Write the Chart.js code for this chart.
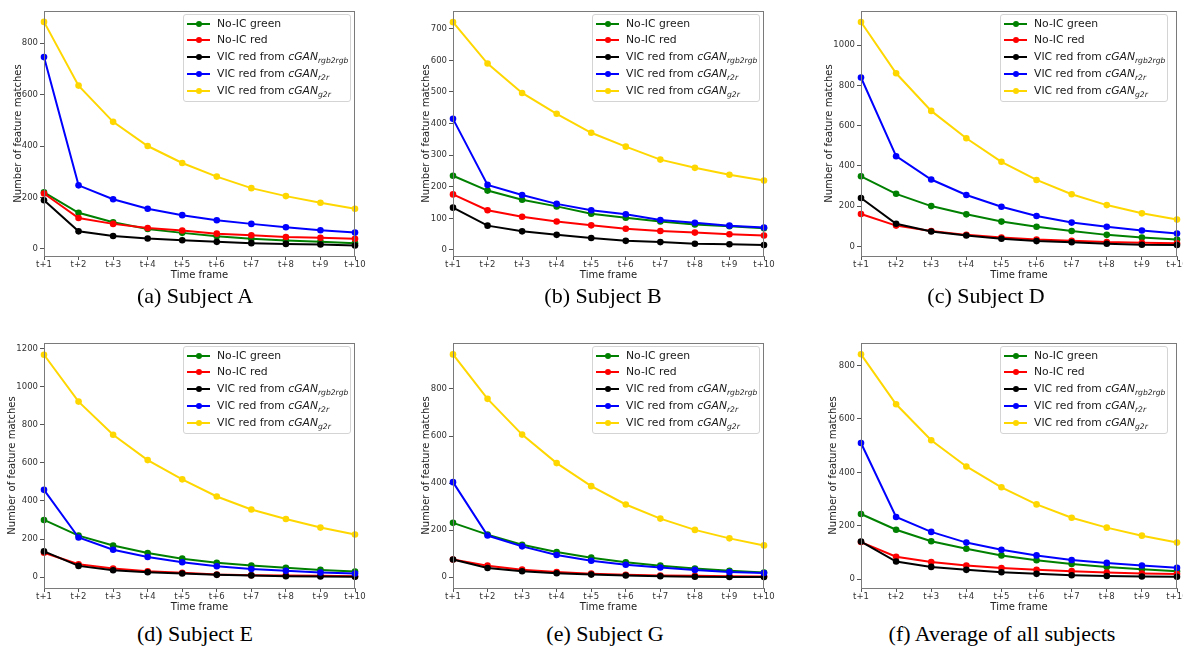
<!DOCTYPE html>
<html>
<head>
<meta charset="utf-8">
<script src="https://cdn.jsdelivr.net/npm/chart.js@4"></script>
<style>
  body { margin: 0; width: 1183px; height: 647px; background: #fff; position: relative; overflow: hidden; font-family: "DejaVu Sans", sans-serif; }
  canvas { position: absolute; }
  .legend { position: absolute; width: 168px; height: 88px; border: 1px solid #d4d4d4; border-radius: 3px; background: rgba(255,255,255,0.85); box-sizing: border-box; font-size: 10.8px; color: #1a1a1a; }
  .row { position: absolute; left: 0; width: 100%; height: 14px; line-height: 14px; white-space: nowrap; }
  .handle { position: absolute; left: 3px; top: 6px; width: 23px; height: 2px; }
  .dot { position: absolute; left: 8.5px; top: -2px; width: 6px; height: 6px; border-radius: 50%; }
  .lbl { position: absolute; left: 33px; top: 0; }
  .lbl sub { font-size: 7.6px; vertical-align: -3px; line-height: 0; font-style: italic; }
  .caption { position: absolute; font-family: "Liberation Serif", serif; font-size: 22px; color: #000; transform: translate(-50%, -50%); white-space: nowrap; }
</style>
</head>
<body>
<script>
const timeFrames = ['t+1', 't+2', 't+3', 't+4', 't+5', 't+6', 't+7', 't+8', 't+9', 't+10'];
const seriesColors = ['#008000', '#ff0000', '#000000', '#0000ff', '#ffd700'];
const seriesNames = ['No-IC green', 'No-IC red', 'VIC red from cGAN', 'VIC red from cGAN', 'VIC red from cGAN'];
const seriesSubs = ['', '', 'rgb2rgb', 'r2r', 'g2r'];
const yTitle = 'Number of feature matches';
const xTitle = 'Time frame';

// (a) Subject A
const aGreen = [220, 140, 103, 77, 62, 49, 39, 32, 27, 22];
const aRed   = [215, 120, 97, 81, 71, 59, 53, 46, 43, 39];
const aBlack = [189, 68, 50, 40, 33, 27, 22, 19, 17, 13];
const aBlue  = [746, 247, 193, 156, 131, 111, 97, 84, 72, 63];
const aGold  = [883, 635, 494, 400, 334, 281, 236, 205, 179, 156];

// (b) Subject B
const bGreen = [235, 188, 159, 138, 115, 102, 90, 81, 75, 69];
const bRed   = [176, 126, 105, 90, 78, 67, 60, 55, 50, 46];
const bBlack = [134, 77, 59, 48, 38, 29, 25, 20, 18, 16];
const bBlue  = [415, 206, 174, 146, 126, 113, 95, 86, 77, 71];
const bGold  = [721, 590, 497, 431, 371, 327, 286, 260, 238, 220];

// (c) Subject D
const cGreen = [348, 261, 200, 159, 123, 97, 76, 57, 44, 34];
const cRed   = [161, 103, 76, 57, 44, 34, 28, 21, 18, 15];
const cBlack = [240, 112, 74, 54, 38, 26, 20, 13, 8, 7];
const cBlue  = [839, 448, 332, 255, 197, 151, 118, 97, 79, 64];
const cGold  = [1115, 860, 673, 537, 420, 330, 259, 205, 164, 133];

// (d) Subject E
const dGreen = [300, 218, 166, 127, 97, 75, 61, 49, 38, 29];
const dRed   = [128, 68, 45, 31, 23, 14, 10, 9, 7, 5];
const dBlack = [135, 59, 36, 26, 19, 12, 9, 5, 3, 2];
const dBlue  = [458, 208, 144, 106, 78, 57, 43, 33, 24, 19];
const dGold  = [1167, 921, 747, 614, 513, 423, 355, 305, 260, 224];

// (e) Subject G
const eGreen = [231, 181, 138, 107, 83, 63, 49, 37, 27, 20];
const eRed   = [75, 49, 32, 22, 15, 10, 7, 6, 4, 3];
const eBlack = [75, 39, 25, 17, 11, 7, 4, 2, 1, 1];
const eBlue  = [404, 177, 131, 94, 70, 53, 41, 31, 22, 18];
const eGold  = [947, 758, 606, 485, 387, 309, 249, 201, 165, 135];

// (f) Average of all subjects
const fGreen = [244, 185, 142, 114, 89, 71, 57, 46, 37, 30];
const fRed   = [139, 84, 64, 51, 42, 35, 30, 25, 21, 19];
const fBlack = [141, 66, 46, 35, 26, 20, 15, 12, 10, 9];
const fBlue  = [510, 233, 177, 137, 110, 89, 72, 61, 51, 43];
const fGold  = [842, 655, 520, 422, 344, 280, 230, 193, 163, 137];

// layout: plot box [left, top, right, bottom], axis range, legend and caption spots
const panels = [
  { caption: '(a) Subject A', series: [aGreen, aRed, aBlack, aBlue, aGold], box: [44, 9, 355, 256], yMin: -28, yMax: 925, step: 200, legendX: 183, capX: 195, capY: 296, titleGap: 26 },
  { caption: '(b) Subject B', series: [bGreen, bRed, bBlack, bBlue, bGold], box: [453, 9, 764, 256], yMin: -19, yMax: 756, step: 100, legendX: 592, capX: 603, capY: 296, titleGap: 27 },
  { caption: '(c) Subject D', series: [cGreen, cRed, cBlack, cBlue, cGold], box: [861, 9, 1177, 256], yMin: -48, yMax: 1169, step: 200, legendX: 1000, capX: 986, capY: 296, titleGap: 32 },
  { caption: '(d) Subject E', series: [dGreen, dRed, dBlack, dBlue, dGold], box: [44, 341, 355, 588], yMin: -57, yMax: 1228, step: 200, legendX: 183, capX: 195, capY: 634, titleGap: 32 },
  { caption: '(e) Subject G', series: [eGreen, eRed, eBlack, eBlue, eGold], box: [453, 341, 764, 588], yMin: -46, yMax: 995, step: 200, legendX: 592, capX: 605, capY: 634, titleGap: 27 },
  { caption: '(f) Average of all subjects', series: [fGreen, fRed, fBlack, fBlue, fGold], box: [861, 341, 1177, 588], yMin: -33, yMax: 884, step: 200, legendX: 1000, capX: 1002, capY: 634, titleGap: 28 }
];

// frame round the plot area, like matplotlib spines
const framePlugin = {
  id: 'frame',
  afterDatasetsDraw(chart) {
    const a = chart.chartArea;
    const ctx = chart.ctx;
    ctx.save();
    ctx.strokeStyle = '#7a7a7a';
    ctx.lineWidth = 1;
    ctx.strokeRect(Math.round(a.left) + 0.5, Math.round(a.top) + 0.5, Math.round(a.right - a.left) - 1, Math.round(a.bottom - a.top));
    ctx.restore();
  }
};

const tickFont = { family: 'DejaVu Sans', size: 8.5 };
const titleFont = { family: 'DejaVu Sans', size: 10 };
const padTop = 5, padRight = 15, yAxisW = 44, xAxisH = 30;

panels.forEach(p => {
  const [l, t, r, b] = p.box;
  const canvas = document.createElement('canvas');
  const w = (r - l) + yAxisW + padRight;
  const h = (b - t) + padTop + xAxisH;
  canvas.width = w;
  canvas.height = h;
  canvas.style.left = (l - yAxisW) + 'px';
  canvas.style.top = (t - padTop) + 'px';
  canvas.style.width = w + 'px';
  canvas.style.height = h + 'px';
  document.body.appendChild(canvas);

  const datasets = p.series.map((vals, i) => ({
    label: seriesNames[i] + seriesSubs[i],
    data: vals,
    borderColor: seriesColors[i],
    backgroundColor: seriesColors[i],
    borderWidth: 2,
    pointRadius: 3.3,
    pointBorderWidth: 0,
    tension: 0,
    order: 4 - i
  }));

  new Chart(canvas, {
    type: 'line',
    data: { labels: timeFrames, datasets },
    options: {
      responsive: false,
      animation: false,
      events: [],
      layout: { padding: { top: padTop, right: padRight, left: 0, bottom: 0 } },
      plugins: { legend: { display: false }, tooltip: { enabled: false } },
      scales: {
        x: {
          grid: { drawOnChartArea: false, tickLength: 4, color: '#555' },
          border: { color: '#7a7a7a' },
          ticks: { font: tickFont, color: '#333', padding: 0, maxRotation: 0, autoSkip: false },
          title: { display: true, text: xTitle, font: titleFont, color: '#222', padding: { top: 0, bottom: 5 } },
          afterFit(s) { s.height = xAxisH; }
        },
        y: {
          min: p.yMin,
          max: p.yMax,
          grid: { drawOnChartArea: false, tickLength: 4, color: '#555' },
          border: { color: '#7a7a7a' },
          ticks: { font: tickFont, color: '#333', padding: 2, callback: v => String(v) },
          afterBuildTicks(s) {
            const ticks = [];
            for (let v = Math.ceil(p.yMin / p.step) * p.step; v <= p.yMax; v += p.step) ticks.push({ value: v });
            s.ticks = ticks;
          },
          title: { display: true, text: yTitle, font: titleFont, color: '#222', padding: { top: yAxisW - p.titleGap - 6, bottom: 0 } },
          afterFit(s) { s.width = yAxisW; }
        }
      }
    },
    plugins: [framePlugin]
  });

  // legend with subscripts, built as html
  const lg = document.createElement('div');
  lg.className = 'legend';
  lg.style.left = p.legendX + 'px';
  lg.style.top = (t + 5) + 'px';
  const rowMid = [9, 25, 42, 59, 76];
  seriesNames.forEach((name, i) => {
    const row = document.createElement('div');
    row.className = 'row';
    row.style.top = (rowMid[i] - 7) + 'px';
    let text = name;
    if (seriesSubs[i]) {
      text = name.replace('cGAN', '<i>cGAN</i>') + '<sub>' + seriesSubs[i] + '</sub>';
    }
    row.innerHTML = `<div class="handle" style="background:${seriesColors[i]}"><div class="dot" style="background:${seriesColors[i]}"></div></div><span class="lbl">${text}</span>`;
    lg.appendChild(row);
  });
  document.body.appendChild(lg);

  const cap = document.createElement('div');
  cap.className = 'caption';
  cap.style.left = p.capX + 'px';
  cap.style.top = p.capY + 'px';
  cap.textContent = p.caption;
  document.body.appendChild(cap);
});
</script>
</body>
</html>
